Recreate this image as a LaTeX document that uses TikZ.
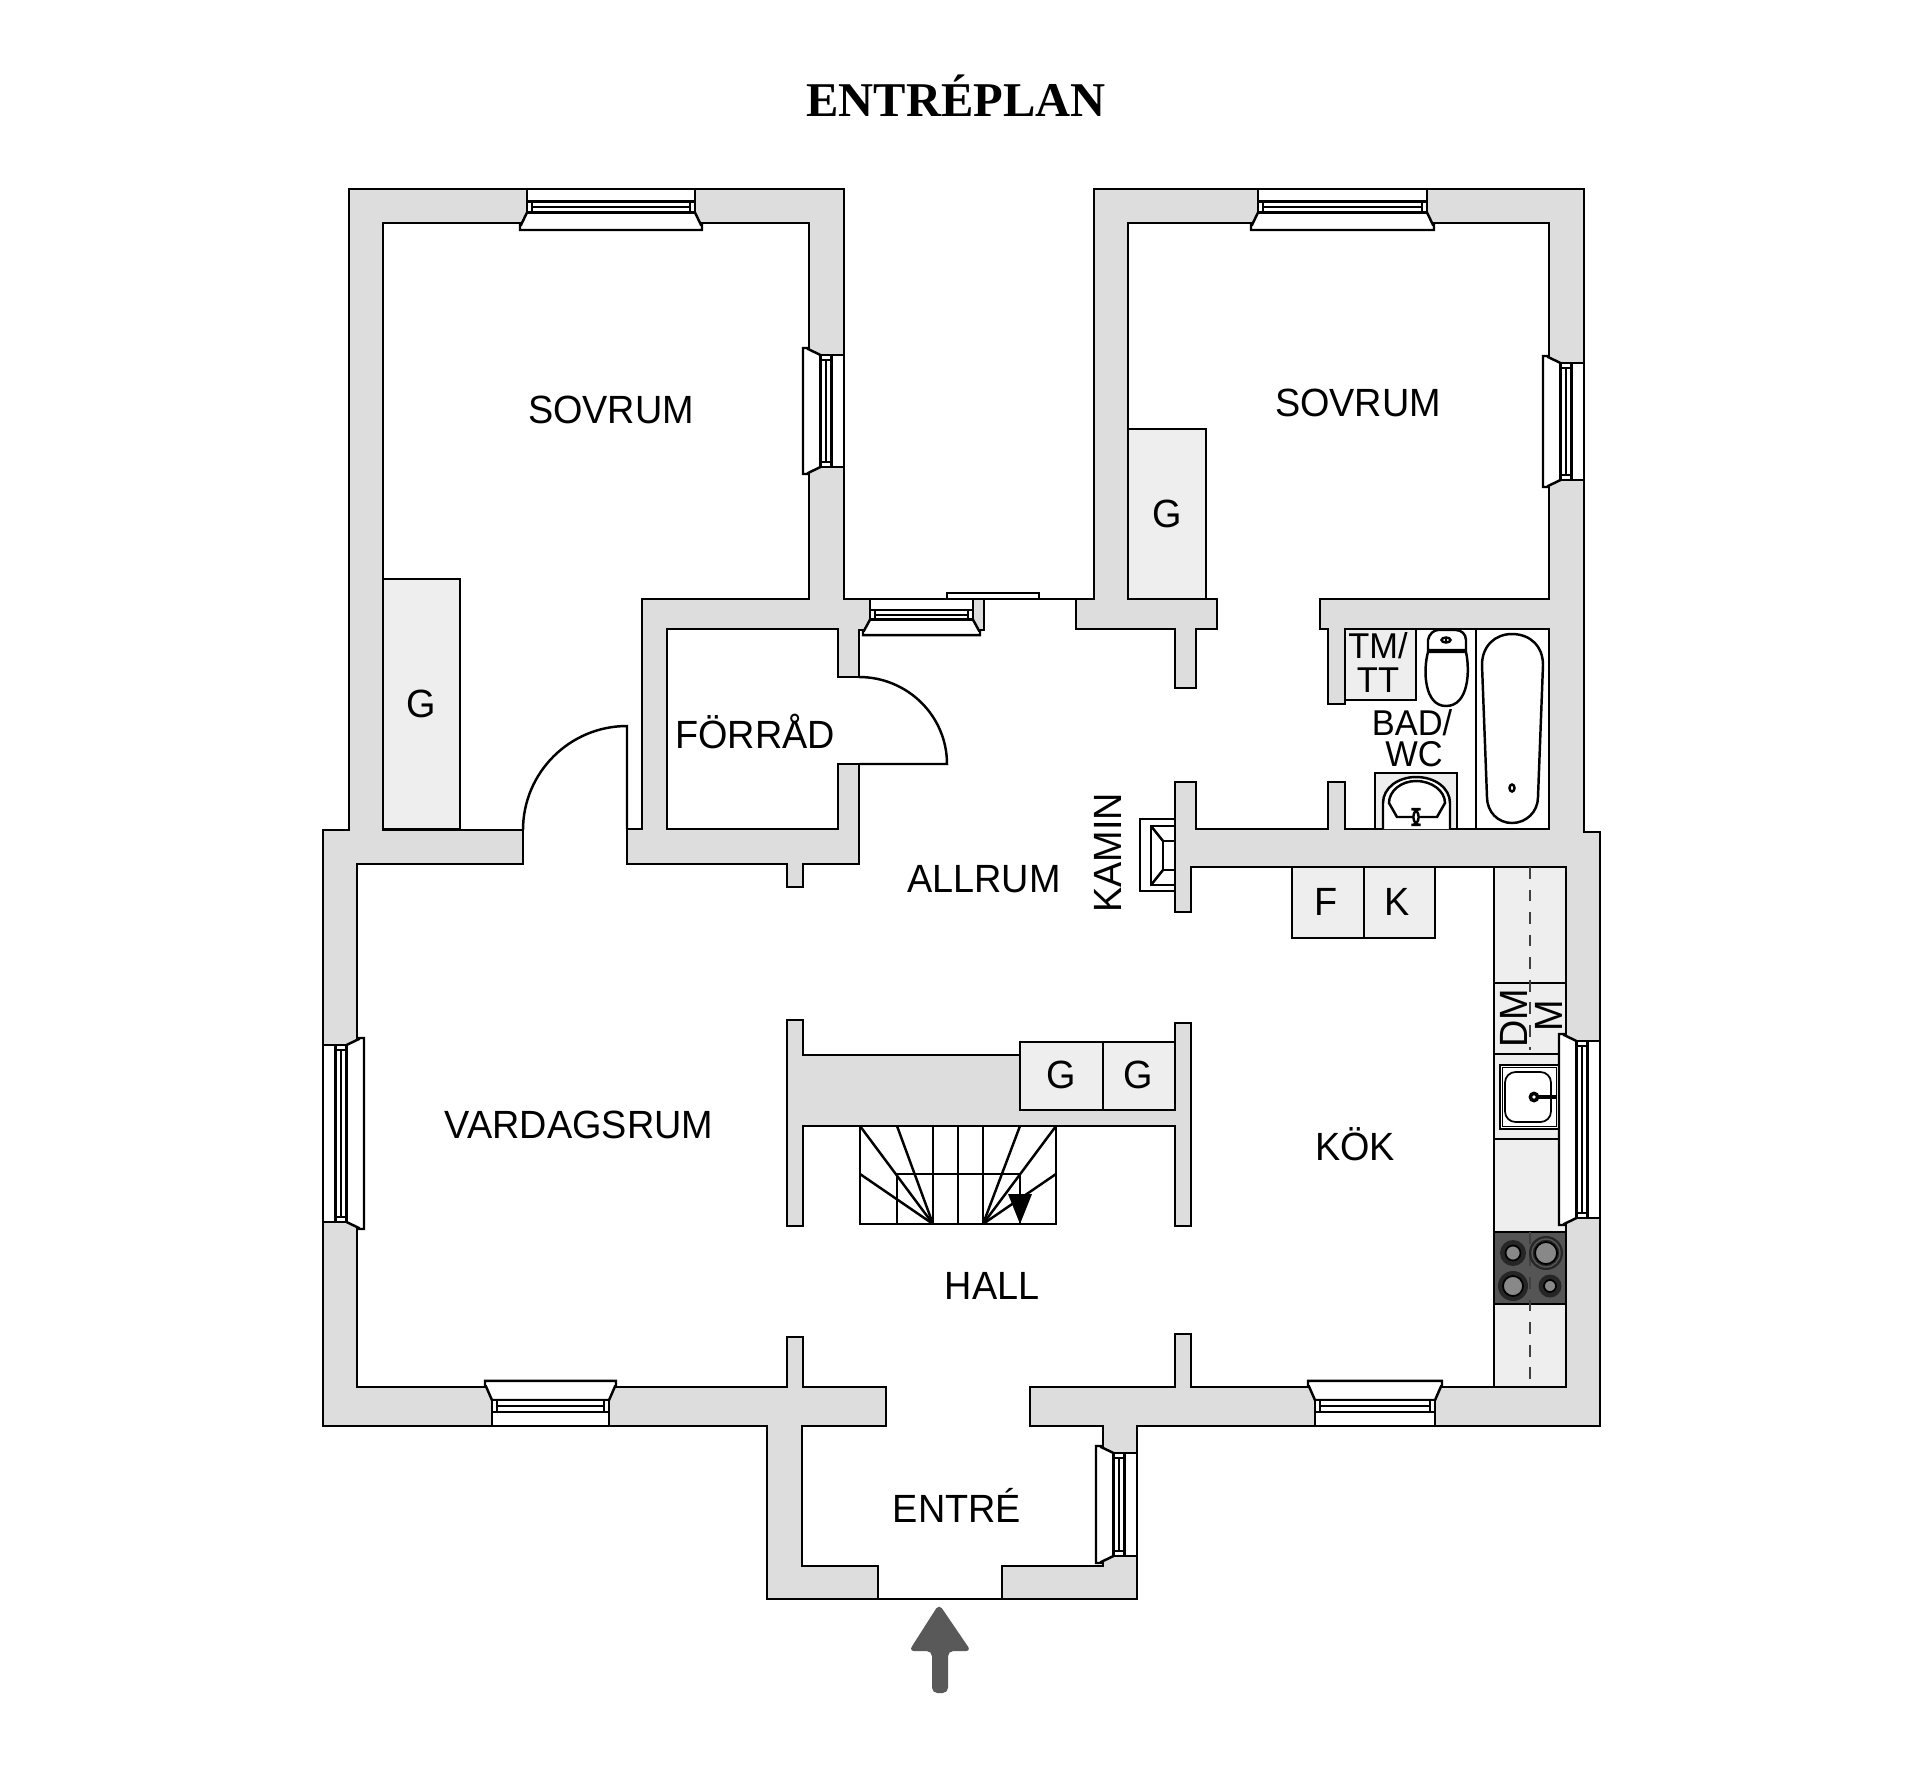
\documentclass[tikz,border=0pt]{standalone}
\usepackage{fontspec}
\usepackage{xcolor}
\setmainfont{Liberation Sans}[FakeStretch=0.96]
\newfontfamily\titlefont{Liberation Serif}
\definecolor{wallgray}{HTML}{DDDDDD}
\definecolor{fixgray}{HTML}{EEEEEE}
\definecolor{stovegray}{HTML}{555555}
\definecolor{burnergray}{HTML}{888888}
\definecolor{arrowgray}{HTML}{595959}
\newcommand{\winH}[4]{
  \draw[glass] (#1,{#3+(#4)*23.5}) -- ({#1-6},{#3+(#4)*36}) -- ({#1-7},{#3+(#4)*36}) -- ({#1-7},{#3+(#4)*41}) -- ({#2+7},{#3+(#4)*41}) -- ({#2+7},{#3+(#4)*36}) -- ({#2+6},{#3+(#4)*36}) -- (#2,{#3+(#4)*23.5}) -- cycle;
  \draw[glass] (#1,#3) rectangle (#2,{#3+(#4)*23.5});
  \draw[line] (#1,{#3+(#4)*12.5}) -- (#2,{#3+(#4)*12.5});
  \draw[line] ({#1+5},{#3+(#4)*12.5}) -- ({#1+5},{#3+(#4)*23.5});
  \draw[line] ({#2-5},{#3+(#4)*12.5}) -- ({#2-5},{#3+(#4)*23.5});
  \draw[line] ({#1+5},{#3+(#4)*18}) -- ({#2-5},{#3+(#4)*18});
}
\newcommand{\winV}[4]{
  \draw[glass] ({#3+(#4)*23.5},#1) -- ({#3+(#4)*36},{#1-6}) -- ({#3+(#4)*36},{#1-7}) -- ({#3+(#4)*41},{#1-7}) -- ({#3+(#4)*41},{#2+7}) -- ({#3+(#4)*36},{#2+7}) -- ({#3+(#4)*36},{#2+6}) -- ({#3+(#4)*23.5},#2) -- cycle;
  \draw[glass] (#3,#1) rectangle ({#3+(#4)*23.5},#2);
  \draw[line] ({#3+(#4)*12.5},#1) -- ({#3+(#4)*12.5},#2);
  \draw[line] ({#3+(#4)*12.5},{#1+5}) -- ({#3+(#4)*23.5},{#1+5});
  \draw[line] ({#3+(#4)*12.5},{#2-5}) -- ({#3+(#4)*23.5},{#2-5});
  \draw[line] ({#3+(#4)*18},{#1+5}) -- ({#3+(#4)*18},{#2-5});
}
\begin{document}
\begin{tikzpicture}[x=0.01cm, y=-0.01cm,
    line/.style={draw=black, line width=0.7pt},
    wall/.style={line, fill=wallgray, line join=miter},
    fixture/.style={line, fill=fixgray},
    glass/.style={line, fill=white},
    hob/.style={line, fill=stovegray},
    burnerring/.style={fill=black!85},
    burner/.style={draw=black, line width=0.5pt, fill=burnergray},
    room/.style={anchor=base, inner sep=0pt, font=\fontsize{11.2}{13}\selectfont},
    small/.style={anchor=base, inner sep=0pt, font=\fontsize{10.2}{12}\selectfont}]
    \useasboundingbox (0,0) rectangle (1920,1787);

    \draw[wall] (349,189) -- (844,189) -- (844,599) -- (984,599) -- (984,630) -- (859,630) -- (859,677) -- (838,677) -- (838,629) -- (667,629) -- (667,829) -- (838,829) -- (838,764) -- (859,764) -- (859,864) -- (803,864) -- (803,887) -- (787,887) -- (787,864) -- (627,864) -- (627,829) -- (642,829) -- (642,599) -- (809,599) -- (809,223) -- (383,223) -- (383,830) -- (523,830) -- (523,864) -- (357,864) -- (357,1387) -- (787,1387) -- (787,1337) -- (803,1337) -- (803,1387) -- (886,1387) -- (886,1426) -- (802,1426) -- (802,1566) -- (878,1566) -- (878,1599) -- (767,1599) -- (767,1426) -- (323,1426) -- (323,830) -- (349,830) -- cycle;
    \draw[wall] (1094,189) -- (1584,189) -- (1584,832) -- (1600,832) -- (1600,1426) -- (1137,1426) -- (1137,1599) -- (1002,1599) -- (1002,1566) -- (1103,1566) -- (1103,1426) -- (1030,1426) -- (1030,1387) -- (1175,1387) -- (1175,1334) -- (1191,1334) -- (1191,1387) -- (1566,1387) -- (1566,867) -- (1191,867) -- (1191,912) -- (1175,912) -- (1175,782) -- (1196,782) -- (1196,829) -- (1328,829) -- (1328,782) -- (1345,782) -- (1345,829) -- (1549,829) -- (1549,629) -- (1345,629) -- (1345,704) -- (1328,704) -- (1328,629) -- (1320,629) -- (1320,599) -- (1549,599) -- (1549,223) -- (1128,223) -- (1128,599) -- (1217,599) -- (1217,629) -- (1196,629) -- (1196,688) -- (1175,688) -- (1175,629) -- (1076,629) -- (1076,599) -- (1094,599) -- cycle;
    \draw[wall] (787,1020) -- (803,1020) -- (803,1055) -- (1020,1055) -- (1020,1110) -- (1175,1110) -- (1175,1023) -- (1191,1023) -- (1191,1226) -- (1175,1226) -- (1175,1126) -- (803,1126) -- (803,1226) -- (787,1226) -- cycle;

    \draw[line] (984,599) -- (1076,599);
    \draw[line] (878,1599) -- (1002,1599);
    \draw[glass] (947,593) rectangle (1039,599);

    \draw[line] (523,830) .. controls (523,772.6) and (569.6,726) .. (627,726) -- (627,829);
    \draw[line] (859,677) .. controls (907.6,677) and (947,716) .. (947,764) -- (859,764);

    \draw[fixture] (383,579) rectangle (460,829);
    \draw[fixture] (1128,429) rectangle (1206,599);
    \draw[fixture] (1292,867) rectangle (1364,938);
    \draw[fixture] (1364,867) rectangle (1435,938);
    \draw[fixture] (1020,1042) rectangle (1103,1110);
    \draw[fixture] (1103,1042) rectangle (1175,1110);
    \draw[fixture] (1345,629) rectangle (1416,700);

    \draw[line] (860,1126) rectangle (1056,1224);
    \draw[line] (897,1224) -- (897,1174) -- (1020,1174) -- (1020,1224);
    \draw[line] (933,1126) -- (933,1224);
    \draw[line] (958,1126) -- (958,1224);
    \draw[line] (983,1126) -- (983,1224);
    \draw[line] (933,1224) -- (860,1126);
    \draw[line] (933,1224) -- (897,1126);
    \draw[line] (933,1224) -- (860,1174);
    \draw[line] (983,1224) -- (1020,1126);
    \draw[line] (983,1224) -- (1056,1126);
    \draw[line] (983,1224) -- (1056,1174);
    \fill (1008,1194) -- (1032,1194) -- (1020,1224) -- cycle;

    \draw[glass] (1140,819) rectangle (1175,891);
    \draw[line] (1175,826) -- (1151,826) -- (1151,885) -- (1175,885);
    \draw[line] (1175,841) -- (1163,841) -- (1163,870) -- (1175,870);
    \draw[line] (1151,826) -- (1163,841);
    \draw[line] (1151,885) -- (1163,870);

    \draw[line] (1476,629) -- (1476,829);
    \draw[line] (1482,665) .. controls (1482,646) and (1495,634) .. (1512,634) .. controls (1530,634) and (1543,646) .. (1543,665) -- (1538,797) .. controls (1538,812) and (1526,823) .. (1512,823) .. controls (1498,823) and (1487,812) .. (1487,797) -- cycle;
    \draw[line] (1512,788) circle[x radius=2.5, y radius=3.5];

    \draw[line] (1428,650) -- (1428,640) .. controls (1429,634) and (1434,630) .. (1438,630) -- (1456,630) .. controls (1461,630) and (1466,634) .. (1466,640) -- (1466,650) -- cycle;
    \draw[line] (1428,652) .. controls (1423,670) and (1424,706) .. (1446,706) .. controls (1469,706) and (1470,670) .. (1466,652) -- cycle;
    \draw[line] (1446,640) circle[x radius=4.5, y radius=2.5];
    \draw[line] (1446,637) -- (1446,643);

    \draw[fixture] (1375,773) rectangle (1457,829);
    \draw[glass] (1383,829) -- (1383,803) .. controls (1383,788) and (1398,777) .. (1416,777) .. controls (1435,777) and (1450,788) .. (1450,803) -- (1450,829);
    \draw[line] (1389,803) .. controls (1389,791) and (1401,781) .. (1416,781) .. controls (1432,781) and (1445,791) .. (1445,803) -- (1437,817) -- (1397,817) -- cycle;
    \draw[glass, rounded corners=2pt] (1413.5,809) rectangle (1418.5,825);

    \draw[fixture] (1494,867) rectangle (1566,1387);
    \draw[line] (1494,983) -- (1566,983);
    \draw[line] (1494,1054) -- (1566,1054);
    \draw[line] (1494,1139) -- (1566,1139);
    \draw[hob] (1494,1232) rectangle (1566,1304);
    \draw[line, draw=black!75, dash pattern=on 3.4pt off 3pt] (1530,867) -- (1530,1050);
    \draw[line, draw=black!75, dash pattern=on 3.4pt off 3pt] (1530,1232) -- (1530,1387);
    \draw[glass, line width=0.5pt] (1500,1065) rectangle (1559,1129);
    \draw[glass, line width=0.5pt] (1502.5,1067.5) rectangle (1556.5,1126.5);
    \draw[glass, line width=0.5pt, rounded corners=3pt] (1505,1072) rectangle (1551,1122);
    \draw[line, line width=1.3pt] (1534,1097) -- (1556,1097);
    \fill (1534,1097) circle[radius=5.5];
    \fill[white] (1534,1097) circle[radius=1.8];
    \fill[burnerring] (1513,1253) circle[radius=13];
    \fill[burnerring] (1546,1253) circle[radius=17];
    \fill[burnerring] (1513,1286) circle[radius=15];
    \fill[burnerring] (1550,1286) circle[radius=11.5];
    \draw[burner] (1513,1253) circle[radius=7.5];
    \draw[draw=stovegray, line width=0.4pt] (1546,1253) circle[radius=14];
    \draw[burner] (1546,1253) circle[radius=11];
    \draw[burner] (1513,1286) circle[radius=10];
    \draw[burner] (1550,1286) circle[radius=6];

    \winH{527}{695}{189}{1}
    \winH{1258}{1427}{189}{1}
    \winH{870}{973}{599}{0.88}
    \winH{492}{609}{1426}{-1.1}
    \winH{1315}{1435}{1426}{-1.1}
    \winV{355}{467}{844}{-1}
    \winV{363}{480}{1584}{-1}
    \winV{1045}{1222}{323}{1}
    \winV{1041}{1218}{1600}{-1}
    \winV{1453}{1556}{1137}{-1}

    \fill[arrowgray, rounded corners=1.5pt] (939,1604) -- (971,1651) -- (948,1651) -- (948,1693) -- (932,1693) -- (932,1651) -- (909,1651) -- cycle;

    \node[anchor=base, inner sep=0pt, font=\titlefont\bfseries\fontsize{13.8}{17}\selectfont] (title) at (956,116) {ENTRÉPLAN};
    \node[room] (sovrumA) at (611,423) {SOVRUM};
    \node[room] (sovrumB) at (1358,416) {SOVRUM};
    \node[room] (forrad) at (755,748) {FÖRRÅD};
    \node[room] (allrum) at (984,892) {ALLRUM};
    \node[room] (vardagsrum) at (579,1138) {VARDAGSRUM};
    \node[room] (kok) at (1355,1160) {KÖK};
    \node[room] (hall) at (992,1299) {HALL};
    \node[room] (entre) at (957,1522) {ENTRÉ};
    \node[room, rotate=90] (kamin) at (1121,853) {KAMIN};
    \node[room] (gA) at (421,717) {G};
    \node[room] (gB) at (1167,527) {G};
    \node[room] (gC) at (1061,1088) {G};
    \node[room] (gD) at (1138,1088) {G};
    \node[room] (fry) at (1326,915) {F};
    \node[room] (kyl) at (1397,915) {K};
    \node[small] (tm) at (1378,658) {TM/};
    \node[small] (tt) at (1378,692) {TT};
    \node[small] (bad) at (1412,735) {BAD/};
    \node[small] (wc) at (1414,766) {WC};
    \node[room, rotate=90] (dm) at (1527,1018) {DM};
    \node[room, rotate=90] (mik) at (1562,1016) {M};
\end{tikzpicture}
\end{document}
